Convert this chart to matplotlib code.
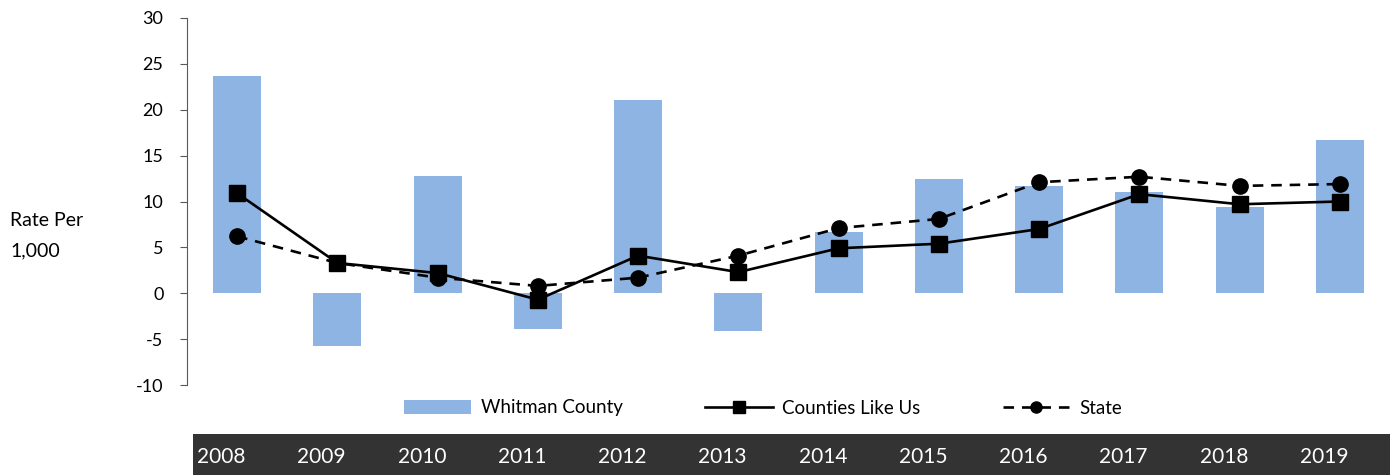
import matplotlib.pyplot as plt
from matplotlib.lines import Line2D
from matplotlib.patches import Patch

# data
years = ['2008', '2009', '2010', '2011', '2012', '2013',
         '2014', '2015', '2016', '2017', '2018', '2019']
whitman = [23.7, -5.8, 12.8, -3.9, 21.1, -4.1, 6.7, 12.5, 11.7, 11.0, 9.4, 16.7]
counties_like_us = [10.9, 3.3, 2.2, -0.7, 4.1, 2.3, 4.9, 5.4, 7.0, 10.8, 9.7, 10.0]
state = [6.2, 3.3, 1.7, 0.8, 1.7, 4.1, 7.1, 8.1, 12.1, 12.7, 11.7, 11.9]

plt.rcParams['font.family'] = ['Lato', 'DejaVu Sans']
plt.rcParams['axes.unicode_minus'] = False

bar_color = '#8EB4E3'

fig = plt.figure(figsize=(13.96, 4.75), dpi=100)
ax = fig.add_axes([187 / 1396, 1 - 385 / 475, (1390 - 187) / 1396, (385 - 18) / 475])

x = list(range(len(years)))
ax.bar(x, whitman, width=0.48, color=bar_color, zorder=1)
ax.plot(x, counties_like_us, color='black', lw=1.9, marker='s', markersize=11, zorder=3)
ax.plot(x, state, color='black', lw=1.9, ls=(0, (4, 3)), marker='o', markersize=11, zorder=2)

ax.set_xlim(-0.5, 11.5)
ax.set_ylim(-10, 30)
ax.set_yticks(range(-10, 31, 5))
ax.set_xticks([])
for s in ['top', 'right', 'bottom']:
    ax.spines[s].set_visible(False)
ax.spines['left'].set_color('#595959')
ax.tick_params(axis='y', length=5, color='#595959', labelsize=13, pad=12)

fig.text(10 / 1396, 1 - 236 / 475, 'Rate Per\n1,000', fontsize=14, ha='left', va='center',
         linespacing=1.95)

handles = [
    Patch(facecolor=bar_color, edgecolor='none'),
    Line2D([], [], color='black', lw=1.9, marker='s', markersize=8),
    Line2D([], [], color='black', lw=1.9, ls=(0, (4, 3)), marker='o', markersize=8),
]
fig.legend(handles, ['Whitman County', 'Counties Like Us', 'State'], ncol=3,
           loc='center', bbox_to_anchor=(763 / 1396, 1 - 408 / 475), frameon=False,
           fontsize=13.5, handlelength=3.6, handleheight=0.7, columnspacing=4.4,
           handletextpad=0.5)

# dark year band under the plot
band = fig.add_axes([193 / 1396, 0, (1390 - 193) / 1396, 41 / 475])
band.set_facecolor('#333333')
band.set_xlim(-0.44, 11.5)
band.set_ylim(0, 1)
band.set_xticks([])
band.set_yticks([])
for s in band.spines.values():
    s.set_visible(False)
for i, yr in enumerate(years):
    band.text(i - 0.4, 0.45, yr, color='white', fontsize=15, ha='left', va='center')

fig.savefig('out.png', dpi=100)
